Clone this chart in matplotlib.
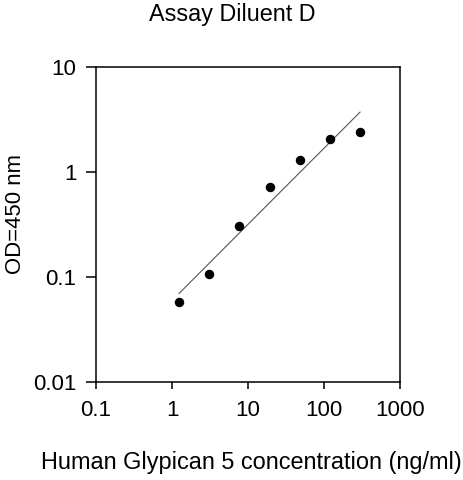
import numpy as np
import matplotlib
matplotlib.use("Agg")
import matplotlib.pyplot as plt
from matplotlib.ticker import FixedLocator, NullLocator, FixedFormatter

plt.rcParams['font.family'] = ['Liberation Sans', 'DejaVu Sans']

title = "Assay Diluent D"
x_label = "Human Glypican 5 concentration (ng/ml)"
y_label = "OD=450 nm"

concentration = [1.24, 3.1, 7.7, 19.3, 48, 119, 298]
od450 = [0.0586, 0.107, 0.31, 0.73, 1.31, 2.06, 2.44]

x_ticks = [0.1, 1, 10, 100, 1000]
x_tick_labels = ["0.1", "1", "10", "100", "1000"]
y_ticks = [0.01, 0.1, 1, 10]
y_tick_labels = ["0.01", "0.1", "1", "10"]

W, H = 463, 480
fig = plt.figure(figsize=(W / 100, H / 100), dpi=100)
ax = fig.add_axes([96 / W, 1 - 382.3 / H, (400 - 96) / W, (382.3 - 67.3) / H])

ax.set_xscale('log')
ax.set_yscale('log')
ax.set_xlim(0.1, 1000)
ax.set_ylim(0.01, 10)

# log-log linear fit line
lx = np.log10(concentration)
ly = np.log10(od450)
slope, intercept = np.polyfit(lx, ly, 1)
fx = np.array([lx[0], lx[-1]])
ax.plot(10 ** fx, 10 ** (slope * fx + intercept), color='#555555', lw=0.8, zorder=2)

ax.plot(concentration, od450, 'o', color='black', markersize=5.8, zorder=3)

ax.xaxis.set_major_locator(FixedLocator(x_ticks))
ax.xaxis.set_major_formatter(FixedFormatter(x_tick_labels))
ax.xaxis.set_minor_locator(NullLocator())
ax.yaxis.set_major_locator(FixedLocator(y_ticks))
ax.yaxis.set_major_formatter(FixedFormatter(y_tick_labels))
ax.yaxis.set_minor_locator(NullLocator())

ax.tick_params(axis='x', direction='out', length=5, width=1.1, labelsize=16, pad=8)
ax.tick_params(axis='y', direction='out', length=7, width=1.1, labelsize=16, pad=7)
for s in ax.spines.values():
    s.set_linewidth(1.1)
    s.set_color('black')

fig.text(232.5 / W, 1 - 15 / H, title, ha='center', va='center', fontsize=16.8)
fig.text(251.5 / W, 1 - 463 / H, x_label, ha='center', va='center', fontsize=16.9)
fig.text(16 / W, 1 - 214 / H, y_label, ha='center', va='center', rotation=90, fontsize=15.9)

fig.savefig("out.png", dpi=100)
